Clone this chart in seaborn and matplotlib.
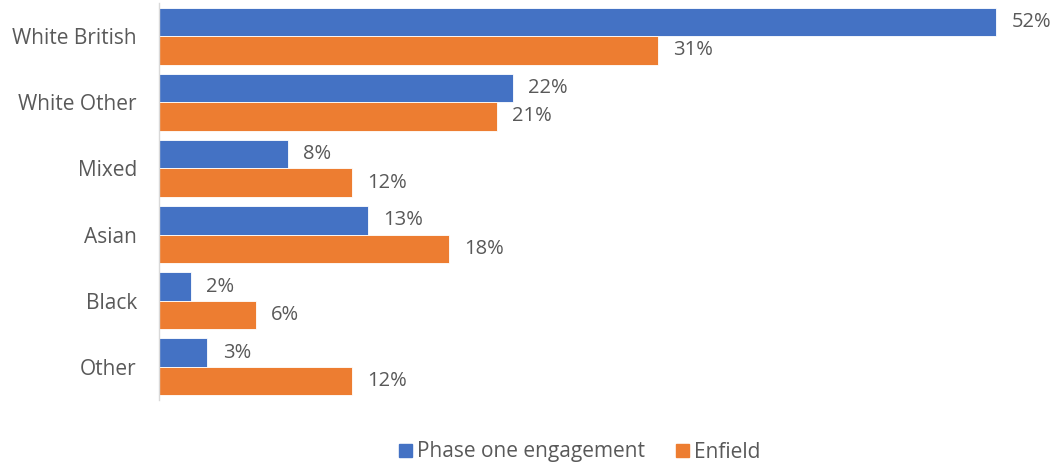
import seaborn as sns
import matplotlib.pyplot as plt
import pandas as pd

categories = ['White British', 'White Other', 'Mixed', 'Asian', 'Black', 'Other']
phase_one = [52, 22, 8, 13, 2, 3]
enfield = [31, 21, 12, 18, 6, 12]
series = ['Phase one engagement', 'Enfield']
colors = ['#4472C4', '#ED7D31']
text_grey = '#595959'

df = pd.DataFrame({
    'group': categories * 2,
    'value': phase_one + enfield,
    'series': [series[0]] * len(categories) + [series[1]] * len(categories),
})

sns.set_style('white')
plt.rcParams['font.family'] = ['Open Sans', 'DejaVu Sans']

fig = plt.figure(figsize=(10.55, 4.66), dpi=100)
ax = fig.add_axes([159 / 1055, 66 / 466, 1 - 159 / 1055, 397 / 466])

sns.barplot(data=df, y='group', x='value', hue='series', orient='h',
            palette=colors, saturation=1, width=0.86, gap=0, ax=ax, legend=False,
            edgecolor='white', linewidth=0.6)

for cont in ax.containers:
    ax.bar_label(cont, labels=[f'{v:.0f}%' for v in cont.datavalues],
                 padding=11, fontsize=14.5, color=text_grey)

ax.set_xlim(0, (1055 - 159) / 16.1)
ax.set_ylim(5.5, -0.5)
ax.set_xlabel('')
ax.set_ylabel('')
ax.set_xticks([])
ax.tick_params(axis='y', length=0, pad=16, labelsize=15, labelcolor=text_grey)
for s in ['top', 'right', 'bottom']:
    ax.spines[s].set_visible(False)
ax.spines['left'].set_color('#D9D9D9')
ax.spines['left'].set_linewidth(1)

handles = [plt.Rectangle((0, 0), 1, 1, color=c) for c in colors]
fig.legend(handles, series, loc='center', bbox_to_anchor=(580 / 1055, 1 - 452 / 466),
           ncol=2, frameon=False, fontsize=15, handlelength=0.6, handleheight=0.6,
           handletextpad=0.25, columnspacing=1.5, labelcolor=text_grey)

fig.savefig('out.png', dpi=100)
